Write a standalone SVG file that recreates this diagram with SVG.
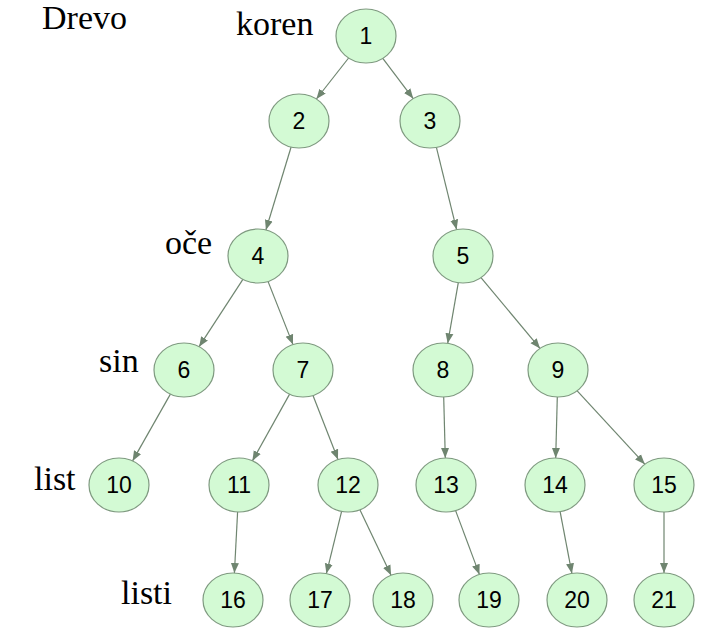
<svg xmlns="http://www.w3.org/2000/svg" width="715" height="638" viewBox="0 0 715 638">
<defs>
<style>
.n ellipse{fill:#d3fad4;stroke:#7f9a80;stroke-width:1.2}
.n text{font-family:"Liberation Sans",Arial,sans-serif;font-size:23px;fill:#000;text-anchor:middle}
.lbl{font-family:"Liberation Serif","Times New Roman",serif;font-size:34px;fill:#000}
#edges line{stroke:#6f8570;stroke-width:1.2;marker-end:url(#ah)}
</style>
<marker id="ah" viewBox="0 0 10 10" refX="10" refY="5" markerWidth="10" markerHeight="10" markerUnits="userSpaceOnUse" orient="auto">
<path d="M0,1 L10,5 L0,9 Z" fill="#6f8570"/>
</marker>
</defs>
<rect width="715" height="638" fill="#fff"/>
<g id="labels">
<text class="lbl" x="42" y="29">Drevo</text>
<text class="lbl" x="236" y="35">koren</text>
<text class="lbl" x="165" y="254">oče</text>
<text class="lbl" x="99" y="372">sin</text>
<text class="lbl" x="34" y="490">list</text>
<text class="lbl" x="121" y="604">listi</text>
</g>
<g id="edges">
<line x1="348.6" y1="58" x2="316.4" y2="99"/>
<line x1="382.8" y1="58.4" x2="413.2" y2="98.6"/>
<line x1="291.1" y1="147" x2="265.9" y2="230"/>
<line x1="436.4" y1="147.4" x2="456.6" y2="229.6"/>
<line x1="242.9" y1="279.3" x2="199.1" y2="346.7"/>
<line x1="268" y1="281.4" x2="293" y2="344.6"/>
<line x1="458.3" y1="282.7" x2="447.7" y2="343.3"/>
<line x1="481" y1="277.6" x2="540" y2="348.4"/>
<line x1="170.4" y1="394.1" x2="132.6" y2="460.9"/>
<line x1="289.6" y1="394.1" x2="252.4" y2="460.9"/>
<line x1="313" y1="395.5" x2="338" y2="459.5"/>
<line x1="443.7" y1="397" x2="445.3" y2="458"/>
<line x1="557.3" y1="397" x2="555.7" y2="458"/>
<line x1="577.2" y1="390.8" x2="644.8" y2="464.2"/>
<line x1="237.6" y1="512" x2="234.4" y2="573"/>
<line x1="341.6" y1="511.4" x2="326.4" y2="573.6"/>
<line x1="359.9" y1="509.8" x2="391.1" y2="575.2"/>
<line x1="455.6" y1="510.6" x2="479.4" y2="574.4"/>
<line x1="560.1" y1="511.6" x2="571.9" y2="573.4"/>
<line x1="664" y1="512" x2="664" y2="573"/>
</g>
<g id="n1" class="n"><ellipse cx="366" cy="36" rx="30" ry="27"/><text x="366" y="44">1</text></g>
<g id="n2" class="n"><ellipse cx="299" cy="121" rx="30" ry="27"/><text x="299" y="129">2</text></g>
<g id="n3" class="n"><ellipse cx="430" cy="121" rx="30" ry="27"/><text x="430" y="129">3</text></g>
<g id="n4" class="n"><ellipse cx="258" cy="256" rx="30" ry="27"/><text x="258" y="264">4</text></g>
<g id="n5" class="n"><ellipse cx="463" cy="256" rx="30" ry="27"/><text x="463" y="264">5</text></g>
<g id="n6" class="n"><ellipse cx="184" cy="370" rx="30" ry="27"/><text x="184" y="378">6</text></g>
<g id="n7" class="n"><ellipse cx="303" cy="370" rx="30" ry="27"/><text x="303" y="378">7</text></g>
<g id="n8" class="n"><ellipse cx="443" cy="370" rx="30" ry="27"/><text x="443" y="378">8</text></g>
<g id="n9" class="n"><ellipse cx="558" cy="370" rx="30" ry="27"/><text x="558" y="378">9</text></g>
<g id="n10" class="n"><ellipse cx="119" cy="485" rx="30" ry="27"/><text x="119" y="493">10</text></g>
<g id="n11" class="n"><ellipse cx="239" cy="485" rx="30" ry="27"/><text x="239" y="493">11</text></g>
<g id="n12" class="n"><ellipse cx="348" cy="485" rx="30" ry="27"/><text x="348" y="493">12</text></g>
<g id="n13" class="n"><ellipse cx="446" cy="485" rx="30" ry="27"/><text x="446" y="493">13</text></g>
<g id="n14" class="n"><ellipse cx="555" cy="485" rx="30" ry="27"/><text x="555" y="493">14</text></g>
<g id="n15" class="n"><ellipse cx="664" cy="485" rx="30" ry="27"/><text x="664" y="493">15</text></g>
<g id="n16" class="n"><ellipse cx="233" cy="600" rx="30" ry="27"/><text x="233" y="608">16</text></g>
<g id="n17" class="n"><ellipse cx="320" cy="600" rx="30" ry="27"/><text x="320" y="608">17</text></g>
<g id="n18" class="n"><ellipse cx="403" cy="600" rx="30" ry="27"/><text x="403" y="608">18</text></g>
<g id="n19" class="n"><ellipse cx="489" cy="600" rx="30" ry="27"/><text x="489" y="608">19</text></g>
<g id="n20" class="n"><ellipse cx="577" cy="600" rx="30" ry="27"/><text x="577" y="608">20</text></g>
<g id="n21" class="n"><ellipse cx="664" cy="600" rx="30" ry="27"/><text x="664" y="608">21</text></g>
</svg>
